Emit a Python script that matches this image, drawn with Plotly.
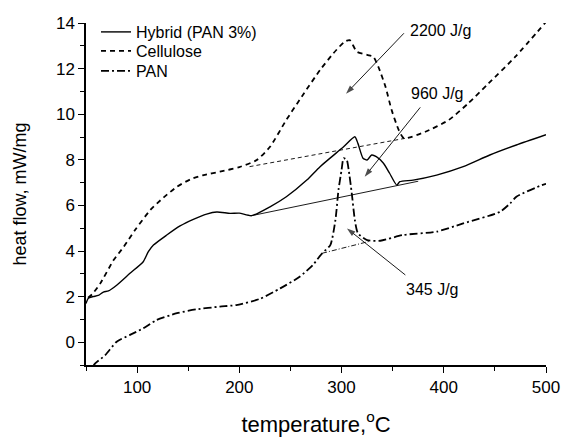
import plotly.graph_objects as go

# ---- data ----
hyb_x = [50, 52.3, 57, 62, 67, 72, 80, 93, 106, 111, 116, 129, 142, 155, 168, 178, 191, 200, 212,
         230, 246, 266, 279, 302, 313, 316, 321, 325, 329.5, 334, 341, 347, 354, 357, 370, 393,
         419, 445, 471, 500]
hyb_y = [1.70, 1.93, 2.0, 2.05, 2.2, 2.25, 2.5, 3.02, 3.53, 3.97, 4.26, 4.70, 5.10, 5.39, 5.62, 5.71,
         5.65, 5.66, 5.55, 5.94, 6.38, 7.11, 7.70, 8.57, 9.01, 8.72, 8.07, 7.99, 8.21, 8.14, 7.85,
         7.41, 6.89, 7.04, 7.11, 7.33, 7.70, 8.21, 8.65, 9.10]

cel_x = [52, 56, 64, 77, 87, 98, 113, 126, 139, 152, 165, 181, 200, 217, 230, 246, 263, 279, 292,
         303, 308, 315, 325, 331, 336, 343, 349, 356, 361, 382, 405, 424, 444, 470, 500]
cel_y = [1.95, 2.1, 2.58, 3.6, 4.19, 4.92, 5.8, 6.35, 6.82, 7.14, 7.33, 7.48, 7.68, 7.99, 8.57,
         9.75, 10.9, 11.94, 12.67, 13.18, 13.25, 12.74, 12.6, 12.52, 12.08, 11.2, 10.18, 9.3, 8.94,
         9.23, 9.75, 10.48, 11.36, 12.52, 14.05]

pan_x = [57, 59, 69, 80, 93, 106, 119, 139, 158, 181, 197, 220, 240, 259, 272, 281, 289, 294, 297,
         300, 302, 305, 307, 310, 313, 316, 325, 338, 360, 393, 419, 455, 465, 471, 496, 500]
pan_y = [-1.05, -0.93, -0.56, 0.02, 0.32, 0.61, 0.97, 1.27, 1.44, 1.56, 1.63, 1.9, 2.36, 2.87,
         3.39, 3.9, 4.26, 5.36, 6.68, 7.55, 8.07, 8.0, 7.55, 6.53, 5.36, 4.78, 4.48, 4.45, 4.7,
         4.85, 5.21, 5.72, 6.09, 6.38, 6.89, 6.95]

# integration baselines
hyb_base_x = [212, 375]
hyb_base_y = [5.55, 7.06]
cel_base_x = [210, 362]
cel_base_y = [7.70, 8.94]
pan_base_x = [281, 327]
pan_base_y = [3.9, 4.42]

# enthalpy labels: text, text position, arrow tail, arrow head
ann_text = ["2200 J/g", "960 J/g", "345 J/g"]
ann_tx = [396.3, 393.4, 388.5]
ann_ty = [13.69, 10.93, 2.29]
arr_tail_x = [361, 377, 362.4]
arr_tail_y = [13.55, 10.3, 2.95]
arr_head_x = [304.4, 322.6, 305.3]
arr_head_y = [10.9, 7.26, 4.99]

x_range = [50, 500]
y_range = [-1, 14]

FONT = "Liberation Sans, Arial, sans-serif"

fig = go.Figure()
fig.add_trace(go.Scatter(x=hyb_x, y=hyb_y, mode="lines", name="Hybrid (PAN 3%)", legend="legend",
                         line=dict(color="black", width=1.4, shape="spline", smoothing=0.6)))
fig.add_trace(go.Scatter(x=cel_x, y=cel_y, mode="lines", name="Cellulose", legend="legend2",
                         line=dict(color="black", width=1.8, dash="5px,4px", shape="spline", smoothing=0.6)))
fig.add_trace(go.Scatter(x=pan_x, y=pan_y, mode="lines", name="PAN", legend="legend3",
                         line=dict(color="black", width=1.8, dash="8px,3px,2px,3px", shape="spline", smoothing=0.6)))

fig.add_trace(go.Scatter(x=hyb_base_x, y=hyb_base_y, mode="lines", showlegend=False,
                         line=dict(color="black", width=0.9)))
fig.add_trace(go.Scatter(x=cel_base_x, y=cel_base_y, mode="lines", showlegend=False,
                         line=dict(color="black", width=0.9, dash="4px,3px")))
fig.add_trace(go.Scatter(x=pan_base_x, y=pan_base_y, mode="lines", showlegend=False,
                         line=dict(color="black", width=0.9, dash="5px,2px,1px,2px")))

# arrows: thin shaft + arrow marker oriented along the shaft
for hx, hy, tx, ty in zip(arr_head_x, arr_head_y, arr_tail_x, arr_tail_y):
    fig.add_trace(go.Scatter(x=[tx, hx], y=[ty, hy], mode="lines+markers", showlegend=False,
                             line=dict(color="black", width=0.9),
                             marker=dict(symbol=["circle", "arrow"], size=[0, 9], color="black",
                                         angleref="previous", line=dict(width=0))))

for t, tx, ty in zip(ann_text, ann_tx, ann_ty):
    fig.add_annotation(x=tx, y=ty, text=t, showarrow=False,
                       font=dict(family=FONT, size=16, color="black"))

axis_common = dict(showline=True, linecolor="black", linewidth=1.5, mirror=False,
                   showgrid=False, zeroline=False, ticks="outside", tickcolor="black",
                   tickwidth=1.3, ticklen=6, automargin=False,
                   tickfont=dict(family=FONT, size=17, color="black"))

fig.update_xaxes(range=x_range, tick0=0, dtick=100,
                 minor=dict(ticks="outside", dtick=50, ticklen=4, tickcolor="black", tickwidth=1.3),
                 title=dict(text="temperature,<sup>o</sup>C", standoff=20,
                            font=dict(family=FONT, size=22, color="black")),
                 **axis_common)
fig.update_yaxes(range=y_range, tick0=0, dtick=2,
                 minor=dict(ticks="outside", dtick=1, ticklen=4, tickcolor="black", tickwidth=1.3),
                 title=dict(text="heat flow, mW/mg", standoff=25,
                            font=dict(family=FONT, size=18, color="black")),
                 **axis_common)

leg_common = dict(xanchor="left", yanchor="middle", bgcolor="rgba(0,0,0,0)",
                  font=dict(family=FONT, size=16, color="black"), itemwidth=30,
                  borderwidth=0)
# legend item centres at 32, 51, 71 px from top (plot top = 23 px, plot height = 342 px)
fig.update_layout(
    width=564, height=437,
    margin=dict(l=86, r=18, t=23, b=72, autoexpand=False),
    paper_bgcolor="white", plot_bgcolor="white",
    font=dict(family=FONT, color="black"),
    legend=dict(x=10 / 460, y=1 - (32 - 23) / 342, **leg_common),
    legend2=dict(x=10 / 460, y=1 - (51 - 23) / 342, **leg_common),
    legend3=dict(x=10 / 460, y=1 - (71 - 23) / 342, **leg_common),
    showlegend=True,
)

fig.write_html("out.html", config={"displayModeBar": False},
               post_script="document.body.style.margin='0px';document.body.style.padding='0px';")
